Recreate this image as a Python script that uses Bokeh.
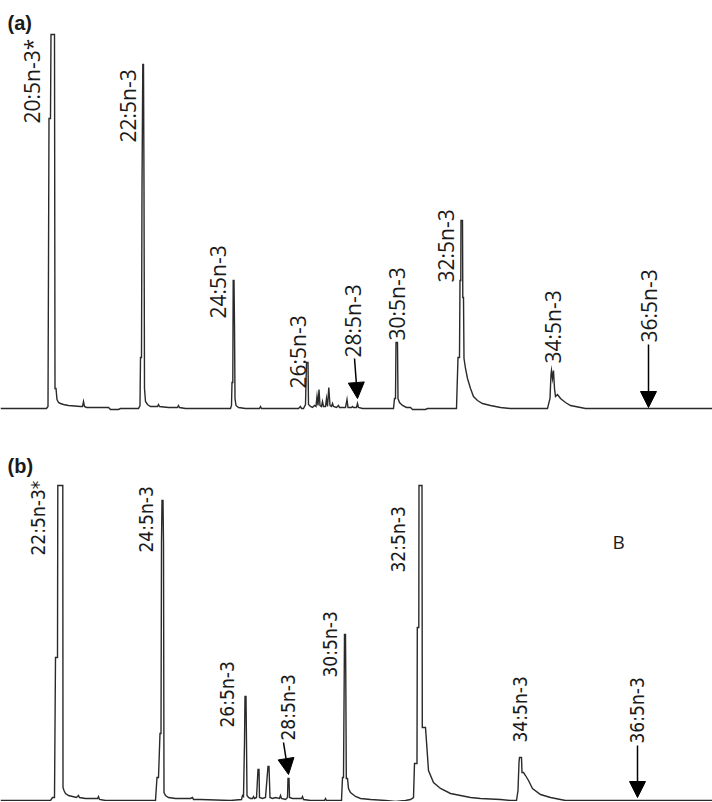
import math
from bokeh.plotting import figure
from bokeh.layouts import column
from bokeh.models import Range1d, Arrow, NormalHead, ColumnDataSource
from bokeh.core.properties import value
from bokeh.embed import file_html
from bokeh.resources import INLINE

# ---------------- data (retention in arbitrary units, signal in arbitrary units) -------------
# Panel (a): chromatogram trace vertices
rt_a = [0, 46, 47.5, 48.5, 50, 50.5, 54, 54.5, 55.5, 56.5, 58, 60, 63, 68, 80, 82, 83, 84, 86, 108, 110, 118, 120,
        138, 139.5, 140, 141, 141.5, 142.3, 143, 143.5, 144, 145, 147, 150, 157, 158, 159, 168, 177, 178, 179, 185,
        230, 231, 231.5, 232.3, 232.7, 233.5, 234, 234.5, 235.5, 238, 245, 259, 260, 261, 298, 300, 301, 303,
        305, 306, 307.5, 308, 310, 312, 314, 315.5, 316.5, 317.5, 318.5, 319.5, 321, 322, 323, 325, 326, 327,
        328.3, 329.5, 331, 332, 333, 336, 338, 339, 345, 346.5, 347.5, 351, 352, 353, 356, 357, 358, 362,
        393, 394, 395, 395.5, 397, 397.5, 399, 402, 406, 410, 412, 425, 427,
        456, 457.5, 459, 459.5, 460.3, 460.5, 462, 462.3, 463, 463.5, 465, 467, 470, 473, 477, 482, 490, 500, 510,
        547, 549.5, 550.5, 551, 552, 553, 554, 555, 557, 560, 565, 570, 580, 585, 712]
sig_a = [0, 0, 2, 290, 290, 374, 374, 20, 20, 9, 6, 5, 4, 3, 2, 2, 7, 2, 1, 1, -1, -1, 0,
         0, 3, 51, 51, 221, 344, 344, 221, 20, 7, 4, 2, 2, 4, 2, 1, 1, 3, 1, 0,
         0, 3, 26, 26, 128, 128, 83, 10, 3, 1, 0, 0, 2, 0, 0, 2, 0, 0,
         4, 46, 46, 4, 2, 1, 3, 2, 12, 3, 19, 3, 2, 7, 2, 2, 10, 2,
         21, 3, 2, 5, 2, 1, 3, 1, 1, 9, 1, 1, 2, 1, 1, 5, 1, 0,
         0, 10, 10, 66, 66, 10, 6, 3, 1, 1, -1, -1, 0,
         0, 51, 51, 128, 128, 188, 188, 111, 111, 50, 40, 30, 20, 12, 8, 5, 3, 1, 0,
         0, 10, 34, 38, 30, 38, 20, 12, 14, 10, 6, 3, 1, 0, 0]

# Panel (b): chromatogram trace vertices
rt_b = [0, 50, 52, 54, 55, 57, 57.3, 62.3, 62.5, 63.5, 65, 68, 72, 76, 78, 79, 85, 92, 97, 98, 99, 105,
        155, 156.5, 158, 159.5, 160.5, 161, 161.5, 162.5, 163, 163.5, 165, 168, 175, 190, 192, 193, 200, 230,
        241, 242, 243, 244, 244.5, 245.5, 246, 246.5, 248, 250, 252, 253, 254, 256, 256.5, 257.5, 258.5, 259,
        262, 265, 267.5, 268.5, 269.5, 272, 275, 279, 280, 281, 285, 287, 287.5, 288.5, 289, 292, 301, 302,
        303, 310, 324, 325, 326,
        341, 342, 343, 343.7, 344, 345, 345.3, 345.8, 347, 348, 350, 355, 360, 370, 385, 395, 405, 410,
        413, 414, 416.5, 416.8, 418.3, 418.5, 421.5, 421.8, 425, 428, 433, 440, 450, 460, 470, 480, 500, 510,
        516, 517.5, 518.5, 519, 521, 521.5, 523, 525, 528, 532, 540, 550, 560, 565, 712]
sig_b = [0, 0, 3, 3, 143, 143, 315, 315, 13, 10, 7, 5, 4, 3, 5, 3, 2, 2, 2, 4, 1, 0,
         0, 23, 23, 67, 67, 258, 300, 300, 258, 8, 5, 3, 2, 2, 3, 1, 1, 0,
         1, 5, 4, 58, 104, 104, 58, 5, 3, 2, 2, 4, 2, 3, 12, 31, 31, 3,
         2, 3, 34, 34, 3, 2, 3, 2, 5, 2, 1, 3, 22, 22, 3, 2, 2, 4,
         1, 0, 0, 2, 0,
         0, 23, 23, 121, 166, 166, 121, 22, 22, 12, 8, 4, 2, 1, 0, -1, 0, 1,
         3, 37, 37, 173, 173, 315, 315, 73, 73, 30, 18, 12, 7, 5, 3, 2, 1, 0,
         0, 10, 38, 43, 43, 28, 28, 25, 20, 12, 6, 3, 1, 0, 0]

# Peak labels
labels_a = ["20:5n-3*", "22:5n-3", "24:5n-3", "26:5n-3", "28:5n-3", "30:5n-3", "32:5n-3", "34:5n-3", "36:5n-3"]
lab_x_a = [31, 127, 217, 297, 352, 396, 445, 552, 648]
lab_y_a = [285, 266, 90, 20, 51, 68, 126, 45, 66]

labels_b = ["22:5n-3*", "24:5n-3", "26:5n-3", "28:5n-3", "30:5n-3", "32:5n-3", "34:5n-3", "36:5n-3"]
lab_x_b = [37, 145, 226, 287, 329, 397, 519, 636]
lab_y_b = [245, 248, 73, 60, 123, 228, 58, 57]

# Arrows (start x, start y, end x, end y) marking trace components
arrows_a = [(354, 50, 357, 10), (648, 64, 648, 1)]
arrows_b = [(283, 58, 288, 26), (637, 55, 637, 3)]

LINE = "#2a2a2a"


def make_panel(height, y_range, rt, sig, labels, lx, ly, arrows, tag, tag_y, font, fsize):
    p = figure(width=712, height=height, x_range=Range1d(0, 712), y_range=Range1d(*y_range),
               output_backend="svg", toolbar_location=None, min_border=0,
               min_border_left=0, min_border_right=0, min_border_top=0, min_border_bottom=0)
    p.axis.visible = False
    p.grid.visible = False
    p.outline_line_color = None
    p.background_fill_color = "white"
    p.border_fill_color = "white"
    p.line(rt, sig, line_color=LINE, line_width=1.4, line_join="miter")
    src = ColumnDataSource(dict(x=lx, y=ly, t=labels))
    p.text(x="x", y="y", text="t", source=src, angle=math.pi / 2, text_align="left",
           text_baseline="middle", text_font=value(font), text_font_size=fsize, text_color="#1a1a1a")
    for (xs, ys, xe, ye) in arrows:
        p.add_layout(Arrow(end=NormalHead(size=16, fill_color="black", line_color="black"),
                           x_start=xs, y_start=ys, x_end=xe, y_end=ye, line_width=1.5, line_color="black"))
    p.text(x=[7], y=[tag_y], text=[tag], text_align="left", text_baseline="top",
           text_font=value("Liberation Sans"), text_font_style="bold", text_font_size="20px",
           text_color="#1a1a1a")
    return p


pa = make_panel(416, (-8, 408), rt_a, sig_a, labels_a, lab_x_a, lab_y_a, arrows_a, "(a)", 397,
                "Open Sans", "21px")
pb = make_panel(385, (-1, 384), rt_b, sig_b, labels_b, lab_x_b, lab_y_b, arrows_b, "(b)", 346,
                "DejaVu Sans Condensed", "19px")
pb.text(x=[612], y=[272], text=["B"], text_align="left", text_baseline="top",
        text_font=value("Open Sans"), text_font_size="19px", text_color="#1a1a1a")

layout = column(pa, pb, spacing=0)
open("out.html", "w").write(file_html(layout, INLINE))
